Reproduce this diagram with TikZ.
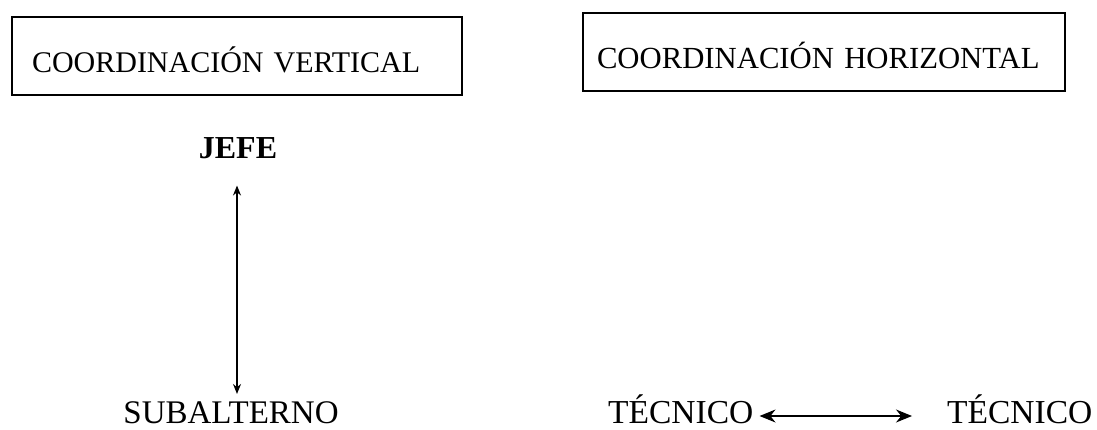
\documentclass[tikz,border=0pt]{standalone}
\usepackage{fontspec}
\setmainfont{Liberation Serif}
\usetikzlibrary{arrows.meta}
\begin{document}
\begin{tikzpicture}[x=1pt,y=-1pt,
  titlebox/.style={draw,line width=1.3pt,align=left,minimum height=78pt,
    text height=32pt,text depth=0pt,inner ysep=0pt},
  label/.style={inner sep=0pt,anchor=base,font=\fontsize{33}{35}\selectfont},
  link/.style={line width=1.2pt}]
\useasboundingbox[fill=white] (0,0) rectangle (1097,429);

% headings
\node[titlebox,inner xsep=20pt,text width=410pt,font=\fontsize{30}{32}\selectfont] (cv) at (237,56) {COORDINACIÓN VERTICAL};
\node[titlebox,inner xsep=14pt,text width=454pt,font=\fontsize{30.7}{32}\selectfont] (ch) at (824,52) {COORDINACIÓN HORIZONTAL};

% vertical coordination
\node[label,font=\fontsize{32}{34}\selectfont\bfseries] (jefe) at (238,158) {JEFE};
\node[label] (sub) at (231,423) {SUBALTERNO};
\draw[link,{Stealth[length=10pt,width=8pt]}-{Stealth[length=10pt,width=8pt]},shorten <=27pt,shorten >=7pt]
  ([xshift=-1pt]jefe.south) -- ([xshift=-1pt]jefe.south |- sub.north);

% horizontal coordination
\node[label,anchor=base west,font=\fontsize{33.5}{35}\selectfont] (t1) at (608,423) {TÉCNICO};
\node[label,anchor=base west,font=\fontsize{33.5}{35}\selectfont] (t2) at (947,423) {TÉCNICO};
\draw[link,{Stealth[length=16pt,width=13pt]}-{Stealth[length=16pt,width=13pt]},shorten <=6pt,shorten >=35pt]
  ([yshift=7pt]t1.base east) -- ([yshift=7pt]t2.base west);
\end{tikzpicture}
\end{document}
